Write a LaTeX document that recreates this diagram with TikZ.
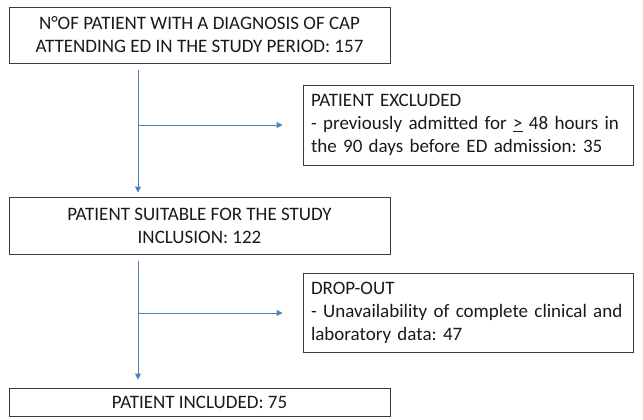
\documentclass[tikz,border=0pt]{standalone}
\usepackage{fontspec}
\setmainfont{Carlito}
\frenchspacing
\usetikzlibrary{arrows.meta,positioning}
\definecolor{flowblue}{RGB}{79,129,189}
\definecolor{boxgray}{RGB}{60,60,60}
\tikzset{
  box/.style={draw=boxgray, line width=0.9pt, inner sep=0pt, font=\fontsize{19}{23}\selectfont, text=black!90},
  flow/.style={draw=flowblue, line width=0.9pt, -{Triangle[width=6pt,length=6pt]}}
}
\begin{document}
\begin{tikzpicture}[x=1pt,y=-1pt]
\useasboundingbox (0,0) rectangle (643,420);
\node[box, minimum width=381, minimum height=56, align=center] (start) at (199.5,35) {N°OF PATIENT WITH A DIAGNOSIS OF CAP\\ATTENDING ED IN THE STUDY PERIOD: 157};
\node[box, minimum width=330, minimum height=80, text width=314, align=left] (excl) at (468,125) {PATIENT EXCLUDED\\- previously admitted for \underline{>} 48 hours in\\the 90 days before ED admission: 35};
\node[box, minimum width=381, minimum height=57, align=center] (suit) at (199.5,225.5) {PATIENT SUITABLE FOR THE STUDY\\INCLUSION: 122};
\node[box, minimum width=330, minimum height=79, text width=314, align=left] (drop) at (468,312.5) {DROP-OUT\\- Unavailability of complete clinical and\\laboratory data: 47};
\node[box, minimum width=381, minimum height=28, align=center] (incl) at (199.5,402) {PATIENT INCLUDED: 75};
\coordinate (j1) at (138,125);
\coordinate (j2) at (138,313);
\draw[flow, shorten <=7pt, shorten >=4pt] (start.south -| j1) -- (suit.north -| j1);
\draw[flow, shorten >=20pt] (j1) -- (excl.west |- j1);
\draw[flow, shorten <=7pt, shorten >=8pt] (suit.south -| j2) -- (incl.north -| j2);
\draw[flow, shorten >=20pt] (j2) -- (drop.west |- j2);
\end{tikzpicture}
\end{document}
